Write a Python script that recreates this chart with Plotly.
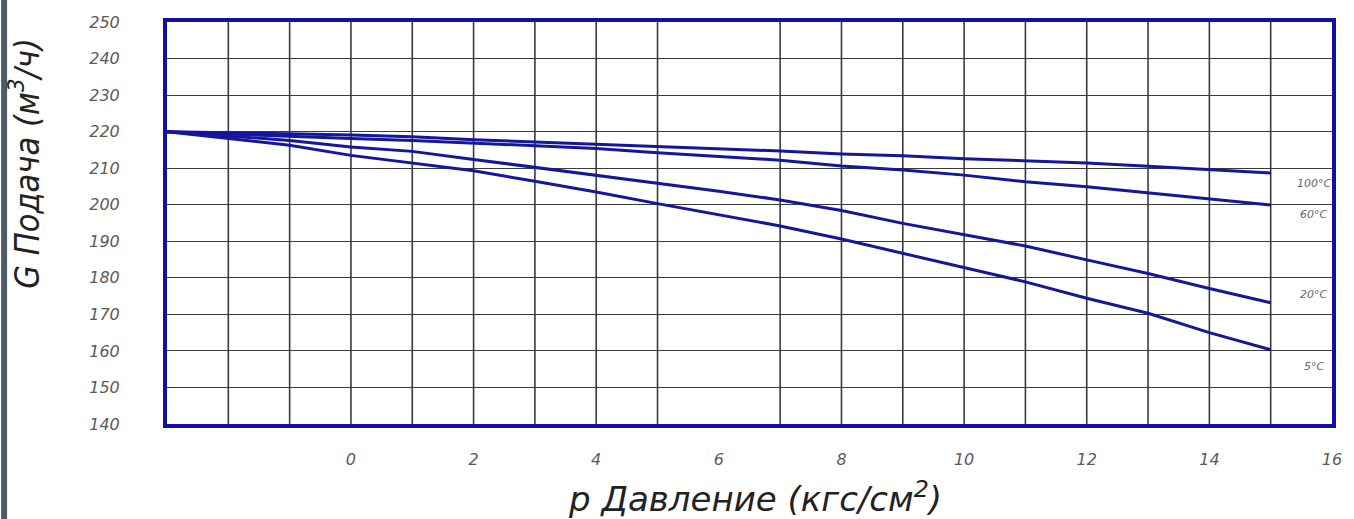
import plotly.graph_objects as go

# Pressure (kgf/cm2) positions on the chart grid
p_vals = [-3, -2, -1, 0, 1, 2, 3, 4, 5, 6, 7, 8, 9, 10, 11, 12, 13, 14, 15]

g_100 = [220, 219.6, 219.4, 219.1, 218.6, 217.8, 217.2, 216.6, 215.9, 215.3,
         214.7, 213.9, 213.4, 212.6, 212.0, 211.4, 210.5, 209.7, 208.7]
g_60 = [220, 219.3, 218.8, 218.1, 217.6, 216.9, 216.3, 215.4, 214.2, 213.2,
        212.2, 210.6, 209.5, 208.1, 206.3, 204.9, 203.3, 201.7, 199.9]
g_20 = [220, 218.7, 217.6, 215.8, 214.6, 212.4, 210.2, 208.1, 206.0, 203.7,
        201.3, 198.4, 194.9, 191.7, 188.7, 184.9, 181.2, 177.1, 173.2]
g_5 = [220, 218.1, 216.3, 213.5, 211.5, 209.3, 206.4, 203.5, 200.3, 197.3,
       194.2, 190.6, 186.7, 182.6, 178.9, 174.4, 170.3, 165.0, 160.3]

series_names = ["100°C", "60°C", "20°C", "5°C"]
series_vals = [g_100, g_60, g_20, g_5]
label_y = [205.9, 197.2, 175.3, 155.6]
label_x = 15.7

x_ticks = [0, 2, 4, 6, 8, 10, 12, 14, 16]
y_ticks = [140, 150, 160, 170, 180, 190, 200, 210, 220, 230, 240, 250]
grid_x = [-2, -1, 0, 1, 2, 3, 4, 5, 7, 8, 9, 10, 11, 12, 13, 14, 15]

LINE_BLUE = "#16169c"
BORDER_BLUE = "#1010a8"
TICK_FONT = dict(family="DejaVu Sans", size=16, color="#5a5a5a", style="italic")

fig = go.Figure()
for name, vals in zip(series_names, series_vals):
    fig.add_trace(go.Scatter(x=p_vals, y=vals, mode="lines", name=name,
                             line=dict(color=LINE_BLUE, width=3),
                             showlegend=False))

shapes = []
for gx in grid_x:
    shapes.append(dict(type="line", xref="x", yref="y", x0=gx, x1=gx,
                       y0=140, y1=250, line=dict(color="#3a3a3a", width=1.6),
                       layer="below"))
# dark strip at left edge of the picture
shapes.append(dict(type="rect", xref="paper", yref="paper",
                   x0=-167 / 1173, x1=-161 / 1173, y0=-95 / 402, y1=1 + 22 / 402,
                   fillcolor="#4c5a6a", line=dict(width=0), layer="above"))

annotations = []
for name, ly in zip(series_names, label_y):
    annotations.append(dict(x=label_x, y=ly, xref="x", yref="y", text=name,
                            showarrow=False, xanchor="center", yanchor="middle",
                            font=dict(family="DejaVu Sans", size=11,
                                      color="#666666", style="italic")))
annotations.append(dict(x=-144 / 1173, y=0.65, xref="paper", yref="paper",
                        text="G Подача (м<sup>3</sup>/ч)", textangle=-90,
                        showarrow=False, xanchor="center", yanchor="middle",
                        font=dict(family="Liberation Sans Narrow, DejaVu Sans Condensed, DejaVu Sans",
                                  size=34, color="#222222", style="italic")))
annotations.append(dict(x=0.505, y=-73 / 402, xref="paper", yref="paper",
                        text="p Давление (кгс/см<sup>2</sup>)",
                        showarrow=False, xanchor="center", yanchor="middle",
                        font=dict(family="DejaVu Sans", size=34,
                                  color="#222222", style="italic")))

fig.update_layout(
    width=1354, height=519,
    margin=dict(l=167, r=14, t=22, b=95),
    paper_bgcolor="white", plot_bgcolor="white",
    shapes=shapes, annotations=annotations,
    xaxis=dict(range=[-3, 16], tickmode="array", tickvals=x_ticks,
               ticktext=[str(v) for v in x_ticks], showgrid=False,
               zeroline=False, showline=True, mirror=True,
               linecolor=BORDER_BLUE, linewidth=4, ticks="",
               tickfont=TICK_FONT, ticklabelstandoff=18),
    yaxis=dict(range=[140, 250], tickmode="array", tickvals=y_ticks,
               ticktext=[str(v) for v in y_ticks],
               showgrid=True, gridcolor="#3a3a3a", gridwidth=1.4,
               zeroline=False, showline=True, mirror=True,
               linecolor=BORDER_BLUE, linewidth=4, ticks="",
               tickfont=TICK_FONT, ticklabelstandoff=40),
)

fig.write_html("out.html", config={"displayModeBar": False},
               post_script="document.body.style.margin='0';document.body.style.overflow='hidden';")
